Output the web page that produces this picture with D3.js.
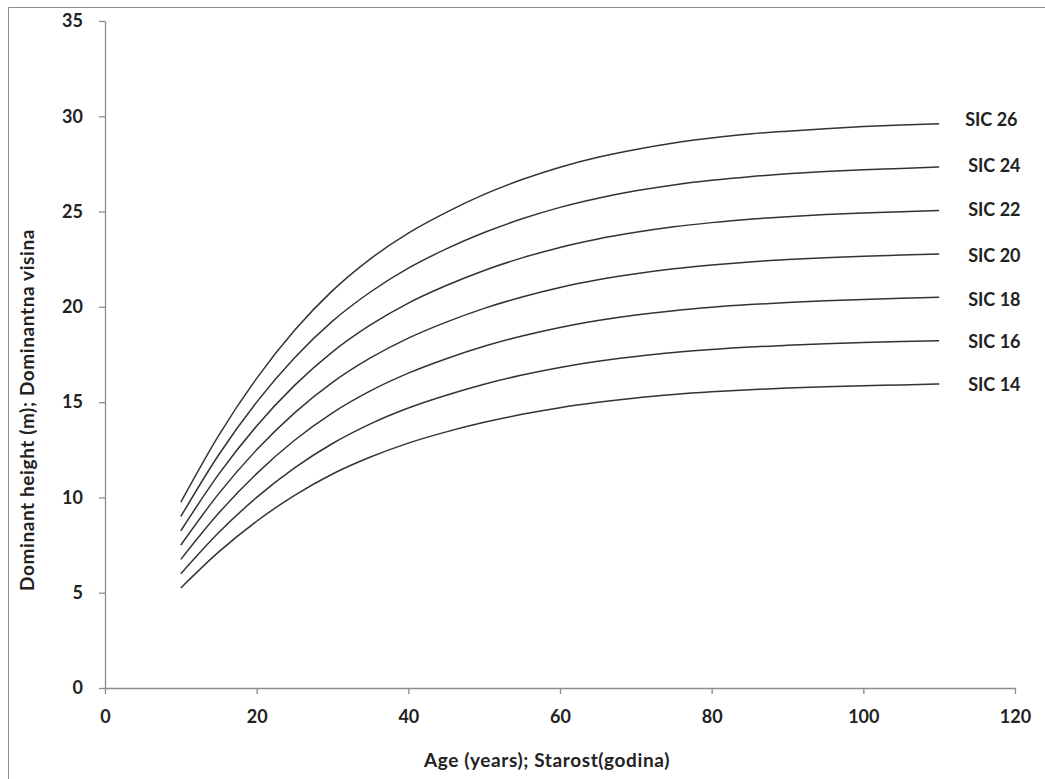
<!DOCTYPE html>
<html>
<head>
<meta charset="utf-8">
<script src="https://cdn.jsdelivr.net/npm/d3@7"></script>
<style>
  html, body { margin: 0; padding: 0; background: #fff; }
  svg text { font-family: Lato, "Open Sans", sans-serif; font-weight: bold; fill: #222; }
</style>
</head>
<body>
<svg id="chart" width="1045" height="779"></svg>
<script>
// Data
const ages = [10, 15, 20, 25, 30, 35, 40, 45, 50, 55, 60, 65, 70, 75, 80, 85, 90, 95, 100, 105, 110];
const sic26 = [9.75, 13.26, 16.25, 18.77, 20.85, 22.52, 23.87, 24.96, 25.90, 26.68, 27.33, 27.85, 28.26, 28.60, 28.86, 29.07, 29.22, 29.35, 29.46, 29.54, 29.61];
const sic24 = [9.0, 12.24, 15.0, 17.33, 19.25, 20.78, 22.03, 23.04, 23.90, 24.62, 25.22, 25.70, 26.09, 26.40, 26.64, 26.83, 26.98, 27.10, 27.19, 27.26, 27.34];
const sic22 = [8.25, 11.22, 13.75, 15.88, 17.64, 19.05, 20.20, 21.12, 21.91, 22.57, 23.12, 23.56, 23.91, 24.20, 24.42, 24.60, 24.73, 24.84, 24.93, 24.99, 25.06];
const sic20 = [7.5, 10.2, 12.5, 14.44, 16.04, 17.32, 18.36, 19.2, 19.92, 20.52, 21.02, 21.42, 21.74, 22.0, 22.2, 22.36, 22.48, 22.58, 22.66, 22.72, 22.78];
const sic18 = [6.75, 9.18, 11.25, 13.0, 14.44, 15.59, 16.52, 17.28, 17.93, 18.47, 18.92, 19.28, 19.57, 19.8, 19.98, 20.12, 20.23, 20.32, 20.39, 20.45, 20.5];
const sic16 = [6.0, 8.16, 10.0, 11.55, 12.83, 13.86, 14.69, 15.36, 15.94, 16.42, 16.82, 17.14, 17.39, 17.6, 17.76, 17.89, 17.98, 18.06, 18.13, 18.18, 18.22];
const sic14 = [5.25, 7.14, 8.75, 10.11, 11.23, 12.12, 12.85, 13.44, 13.94, 14.36, 14.71, 14.99, 15.22, 15.4, 15.54, 15.65, 15.74, 15.81, 15.86, 15.9, 15.95];
const seriesNames = ["SIC 26", "SIC 24", "SIC 22", "SIC 20", "SIC 18", "SIC 16", "SIC 14"];
const seriesValues = [sic26, sic24, sic22, sic20, sic18, sic16, sic14];
const xTicks = [0, 20, 40, 60, 80, 100, 120];
const yTicks = [0, 5, 10, 15, 20, 25, 30, 35];
const xTitle = "Age (years); Starost(godina)";
const yTitle = "Dominant height (m); Dominantna visina";

const svg = d3.select("#chart");

// outer chart border (top and left visible)
svg.append("line").attr("x1", 8.5).attr("y1", 7.5).attr("x2", 1045).attr("y2", 7.5)
  .attr("stroke", "#8c8c8c").attr("stroke-width", 1);
svg.append("line").attr("x1", 8.5).attr("y1", 7.5).attr("x2", 8.5).attr("y2", 779)
  .attr("stroke", "#8c8c8c").attr("stroke-width", 1);

const x = d3.scaleLinear().domain([0, 120]).range([105, 1015]);
const y = d3.scaleLinear().domain([0, 35]).range([688, 21]);

// axes
const xAxis = d3.axisBottom(x).tickValues(xTicks).tickSize(6).tickPadding(16).tickSizeOuter(0);
const yAxis = d3.axisLeft(y).tickValues(yTicks).tickSize(6).tickPadding(16).tickSizeOuter(0);

const gx = svg.append("g").attr("transform", "translate(0,688)").call(xAxis);
const gy = svg.append("g").attr("transform", "translate(105,0)").call(yAxis);
[gx, gy].forEach(g => {
  g.select(".domain").attr("stroke", "#8c8c8c").attr("stroke-width", 1.3);
  g.selectAll(".tick line").attr("stroke", "#8c8c8c").attr("stroke-width", 1.3);
  g.selectAll(".tick text").attr("font-size", 18).attr("font-family", "Lato, sans-serif")
    .attr("font-weight", "bold").attr("fill", "#222");
});

// lines
const line = d3.line().x((d, i) => x(ages[i])).y(d => y(d)).curve(d3.curveMonotoneX);
const labelDy = [-5, -2, -1, 1, 2, 0.5, -0.5];
seriesValues.forEach((vals, k) => {
  svg.append("path").datum(vals).attr("d", line)
    .attr("fill", "none").attr("stroke", "#333").attr("stroke-width", 1.5);
  svg.append("text")
    .attr("x", x(ages[ages.length - 1]) + (k === 0 ? 26 : 29))
    .attr("y", y(vals[vals.length - 1]) + labelDy[k])
    .attr("dominant-baseline", "central")
    .attr("font-size", 18)
    .text(seriesNames[k]);
});

// titles
svg.append("text").attr("x", 547).attr("y", 759).attr("text-anchor", "middle")
  .attr("dominant-baseline", "central").attr("font-size", 19)
  .attr("letter-spacing", 0.6).text(xTitle);
svg.append("text").attr("transform", "translate(26,410) rotate(-90)")
  .attr("text-anchor", "middle").attr("dominant-baseline", "central")
  .attr("font-size", 19).attr("letter-spacing", 0.6).text(yTitle);
</script>
</body>
</html>
